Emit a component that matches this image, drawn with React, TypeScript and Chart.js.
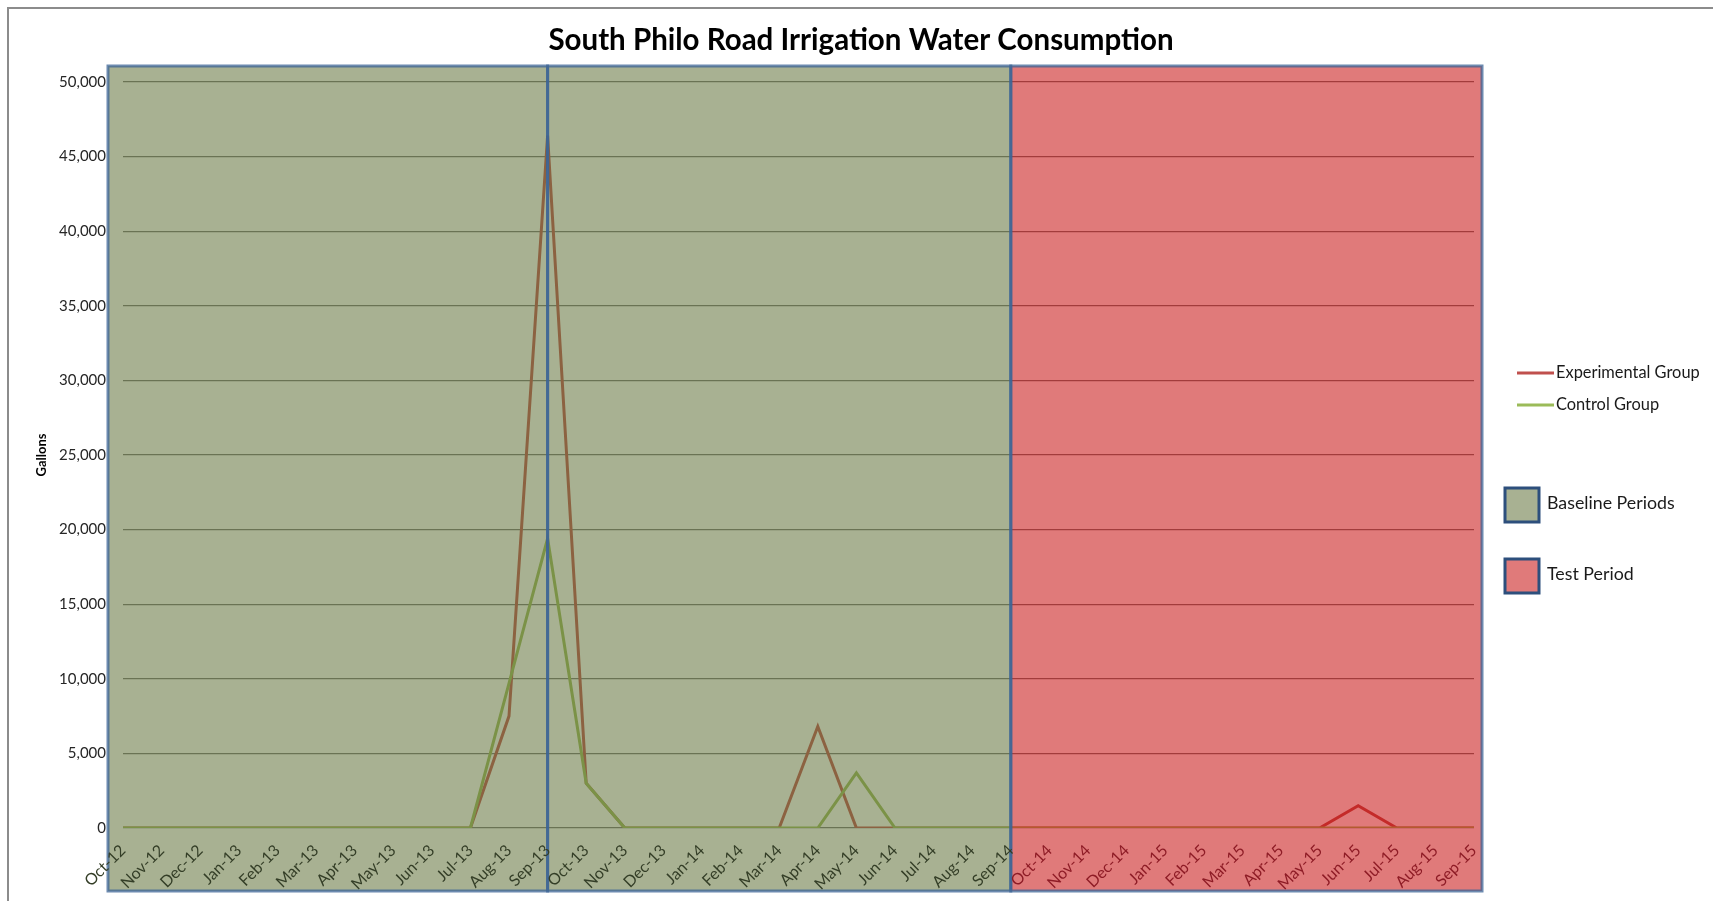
import React, { useEffect, useRef } from 'react';
import { Chart, registerables } from 'chart.js';

Chart.register(...registerables);

const months = [
  'Oct-12', 'Nov-12', 'Dec-12', 'Jan-13', 'Feb-13', 'Mar-13', 'Apr-13', 'May-13', 'Jun-13', 'Jul-13', 'Aug-13', 'Sep-13',
  'Oct-13', 'Nov-13', 'Dec-13', 'Jan-14', 'Feb-14', 'Mar-14', 'Apr-14', 'May-14', 'Jun-14', 'Jul-14', 'Aug-14', 'Sep-14',
  'Oct-14', 'Nov-14', 'Dec-14', 'Jan-15', 'Feb-15', 'Mar-15', 'Apr-15', 'May-15', 'Jun-15', 'Jul-15', 'Aug-15', 'Sep-15',
];

const experimentalGroup = [
  0, 0, 0, 0, 0, 0, 0, 0, 0, 0, 7500, 46400,
  3000, 0, 0, 0, 0, 0, 6800, 0, 0, 0, 0, 0,
  0, 0, 0, 0, 0, 0, 0, 0, 1500, 0, 0, 0,
];

const controlGroup = [
  0, 0, 0, 0, 0, 0, 0, 0, 0, 0, 9700, 19400,
  3000, 0, 0, 0, 0, 0, 0, 3700, 0, 0, 0, 0,
  0, 0, 0, 0, 0, 0, 0, 0, 0, 0, 0, 0,
];

const seriesNames = ['Experimental Group', 'Control Group'];
const periodNames = ['Baseline Periods', 'Test Period'];
const periodEnds = ['Sep-13', 'Sep-14', 'Sep-15'];
const titleText = 'South Philo Road Irrigation Water Consumption';
const yAxisTitle = 'Gallons';
const yMin = 0;
const yMax = 50000;
const yStep = 5000;

const FONT = 'Lato, "Open Sans", sans-serif';
const EXP_COLOR = '#c0504d';
const CTRL_COLOR = '#9bbb59';
const GREEN_OVERLAY = 'rgba(97,113,57,0.55)';
const RED_OVERLAY = 'rgba(199,13,13,0.55)';
const BOX_BORDER = 'rgba(60,100,150,0.75)';

const periodsPlugin = {
  id: 'periodsPlugin',
  beforeDraw(chart: any) {
    const { ctx, width, height } = chart;
    ctx.save();
    ctx.fillStyle = '#ffffff';
    ctx.fillRect(0, 0, width, height);
    ctx.strokeStyle = '#8c8c8c';
    ctx.lineWidth = 2;
    ctx.strokeRect(8, 8, width + 40, height + 40);
    ctx.restore();
  },
  afterDatasetsDraw(chart: any) {
    const { ctx, chartArea } = chart;
    const xs = chart.scales.x;
    const ys = chart.scales.y;
    const start = xs.getPixelForValue(0) - 15;
    const e1 = xs.getPixelForValue(months.indexOf(periodEnds[0]));
    const e2 = xs.getPixelForValue(months.indexOf(periodEnds[1]));
    const e3 = xs.getPixelForValue(months.indexOf(periodEnds[2])) + 8;
    const top = ys.getPixelForValue(yMax) - 16;
    const bottom = chartArea.bottom + 63;
    ctx.save();
    ctx.fillStyle = GREEN_OVERLAY;
    ctx.fillRect(start, top, e2 - start, bottom - top);
    ctx.fillStyle = RED_OVERLAY;
    ctx.fillRect(e2, top, e3 - e2, bottom - top);
    ctx.strokeStyle = BOX_BORDER;
    ctx.lineWidth = 3;
    ctx.strokeRect(start, top, e1 - start, bottom - top);
    ctx.strokeRect(e1, top, e2 - e1, bottom - top);
    ctx.strokeRect(e2, top, e3 - e2, bottom - top);
    ctx.restore();
  },
  afterDraw(chart: any) {
    const { ctx, chartArea } = chart;
    ctx.save();
    // title
    ctx.fillStyle = '#000000';
    ctx.font = `bold 29.5px ${FONT}`;
    ctx.textAlign = 'center';
    ctx.textBaseline = 'middle';
    ctx.fillText(titleText, 861, 40);
    // y axis title
    ctx.save();
    ctx.translate(42, (chartArea.top + chartArea.bottom) / 2);
    ctx.rotate(-Math.PI / 2);
    ctx.font = `bold 13px ${FONT}`;
    ctx.fillText(yAxisTitle, 0, 0);
    ctx.restore();
    // series legend
    const lx = chartArea.right + 43;
    const colors = [EXP_COLOR, CTRL_COLOR];
    const rows = [373, 405];
    ctx.textAlign = 'left';
    ctx.font = `16.4px ${FONT}`;
    seriesNames.forEach((name, i) => {
      ctx.strokeStyle = colors[i];
      ctx.lineWidth = 3;
      ctx.beginPath();
      ctx.moveTo(lx, rows[i]);
      ctx.lineTo(lx + 37, rows[i]);
      ctx.stroke();
      ctx.fillStyle = '#1a1a1a';
      ctx.fillText(name, lx + 39, rows[i]);
    });
    // period legend
    const bx = chartArea.right + 31;
    const boxRows = [505, 576];
    const fills = ['#a8b192', '#e07a7a'];
    ctx.font = `17.8px ${FONT}`;
    periodNames.forEach((name, i) => {
      ctx.fillStyle = fills[i];
      ctx.fillRect(bx, boxRows[i] - 17, 34, 34);
      ctx.strokeStyle = '#2d4f7c';
      ctx.lineWidth = 3;
      ctx.strokeRect(bx, boxRows[i] - 17, 34, 34);
      ctx.fillStyle = '#1a1a1a';
      ctx.fillText(name, bx + 42, boxRows[i] - 2);
    });
    ctx.restore();
  },
};

export default function App() {
  const canvasRef = useRef<HTMLCanvasElement | null>(null);

  useEffect(() => {
    if (!canvasRef.current) return;
    const boundary = months.indexOf(periodEnds[1]);
    const chart = new Chart(canvasRef.current, {
      type: 'line',
      data: {
        labels: months,
        datasets: [
          {
            label: seriesNames[0],
            data: experimentalGroup,
            borderColor: EXP_COLOR,
            backgroundColor: EXP_COLOR,
            borderWidth: 3,
            pointRadius: 0,
            tension: 0,
            order: 1,
          },
          {
            label: seriesNames[1],
            data: controlGroup,
            borderColor: CTRL_COLOR,
            backgroundColor: CTRL_COLOR,
            borderWidth: 3,
            pointRadius: 0,
            tension: 0,
            order: 0,
          },
        ],
      },
      options: {
        animation: false,
        responsive: true,
        maintainAspectRatio: false,
        layout: {
          padding: { left: 0, top: 82, right: 239, bottom: 0 },
        },
        plugins: {
          legend: { display: false },
          title: { display: false },
          tooltip: { enabled: false },
        },
        scales: {
          x: {
            offset: false,
            grid: { display: false },
            border: { display: false },
            ticks: {
              z: 1,
              autoSkip: false,
              maxRotation: 45,
              minRotation: 45,
              padding: 5,
              font: { family: FONT, size: 16 },
              color: (c: any) => (c.index <= boundary ? '#343e27' : '#8e1c26'),
            },
            afterFit: (s: any) => {
              s.height = 73;
            },
          },
          y: {
            min: yMin,
            max: yMax,
            grid: { color: '#777777', lineWidth: 1.2, drawTicks: false },
            border: { display: false },
            ticks: {
              stepSize: yStep,
              padding: 17,
              color: '#262626',
              font: { family: FONT, size: 15 },
            },
            afterFit: (s: any) => {
              s.width = 123;
            },
          },
        },
      },
      plugins: [periodsPlugin],
    });
    return () => chart.destroy();
  }, []);

  return (
    <div style={{ position: 'fixed', left: 0, top: 0, width: '100vw', height: '100vh', background: '#fff' }}>
      <canvas ref={canvasRef} />
    </div>
  );
}
